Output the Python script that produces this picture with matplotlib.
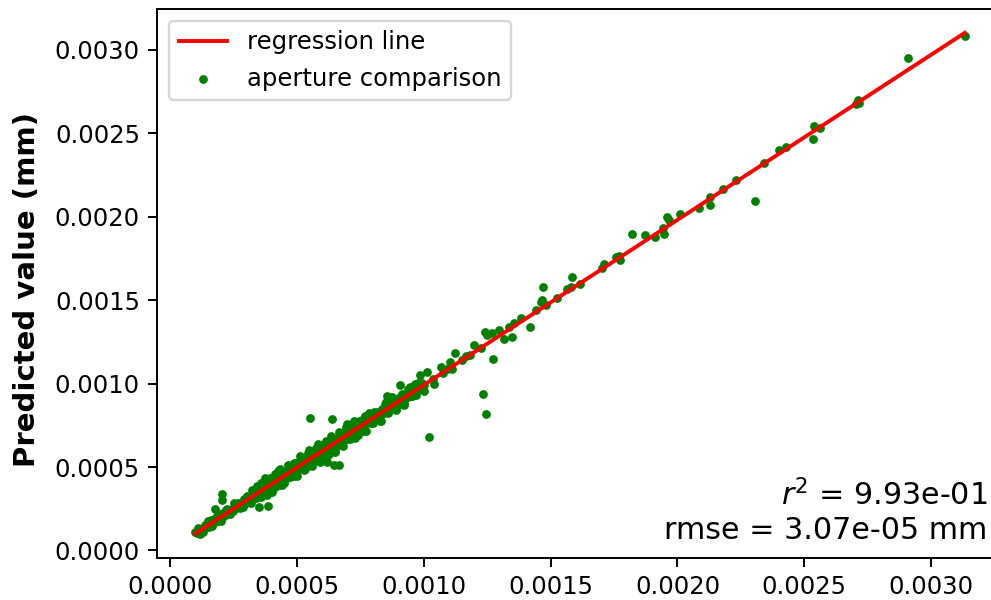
import matplotlib
matplotlib.use("Agg")
import matplotlib.pyplot as plt
import numpy as np

# values in units of 1e-5 mm
SCALE = 1e-5

dense_x = [
    10.0, 10.6, 11.2, 11.8, 12.4, 13.0, 13.6, 14.2, 14.8, 15.4, 16.0, 16.6, 17.2, 17.8, 18.4, 19.0,
    19.6, 20.2, 20.8, 21.4, 22.0, 22.6, 23.2, 23.8, 24.4, 25.0, 25.6, 26.2, 26.8, 27.4, 28.0, 28.6,
    29.2, 29.8, 12.0, 15.0, 18.0, 21.0, 24.0, 27.0, 30.0, 16.3, 19.3, 22.3, 25.2, 20.4, 20.4, 17.8,
    30.4, 30.9, 31.4, 31.9, 32.4, 32.9, 33.4, 33.9, 34.4, 34.9, 35.4, 35.9, 36.4, 36.9, 37.4, 37.9,
    38.4, 38.9, 39.4, 39.9, 40.4, 40.9, 41.4, 41.9, 42.4, 42.9, 43.4, 43.9, 44.4, 44.9, 45.4, 45.9,
    46.4, 46.9, 47.4, 47.9, 48.4, 48.9, 49.4, 49.9, 31.0, 33.0, 35.0, 37.0, 39.0, 41.0, 43.0, 45.0,
    47.0, 49.0, 36.2, 37.5, 43.4, 40.0, 45.0, 34.9, 38.8,
    50.4, 50.9, 51.4, 51.9, 52.4, 52.9, 53.4, 53.9, 54.4, 54.9, 55.4, 55.9, 56.4, 56.9, 57.4, 57.9,
    58.4, 58.9, 59.4, 59.9, 60.4, 60.9, 61.4, 61.9, 62.4, 62.9, 63.4, 63.9, 64.4, 64.9, 65.4, 65.9,
    66.4, 66.9, 67.4, 67.9, 68.4, 68.9, 69.4, 69.9, 70.4, 70.9, 71.4, 71.9, 72.4, 72.9, 73.4, 73.9,
    74.4, 74.9, 51.0, 53.0, 55.0, 57.0, 59.0, 61.0, 63.0, 65.0, 67.0, 69.0, 71.0, 73.0, 75.0,
    55.3, 63.8, 69.7, 61.8, 64.5, 66.4,
    75.5, 76.2, 77.0, 77.8, 78.6, 79.4, 80.2, 81.0, 81.8, 82.6, 83.4, 84.2, 85.0, 85.8, 86.6, 87.4,
    88.2, 89.0, 89.8, 90.6, 91.4, 92.2, 93.0, 93.8, 94.6, 95.4, 96.2, 97.0, 97.8, 98.6, 99.4, 100.2,
    76.0, 78.0, 80.0, 82.0, 84.0, 86.0, 88.0, 90.0, 92.0, 94.0, 96.0, 98.0, 100.0, 85.5, 90.8,
]
dense_y = [
    11.3, 10.2, 13.3, 10.1, 13.0, 10.8, 15.4, 13.9, 17.5, 14.3, 17.0, 14.7, 18.8, 17.1, 20.6, 17.4,
    19.9, 17.8, 22.7, 20.4, 24.5, 22.1, 24.3, 21.6, 25.1, 23.6, 27.9, 25.4, 28.2, 25.4, 28.5, 25.9,
    31.1, 28.4, 12.1, 15.2, 18.0, 21.3, 24.0, 26.9, 30.0, 18.4, 21.8, 25.0, 28.3, 33.6, 30.0, 25.0,
    32.6, 29.3, 32.1, 28.6, 36.2, 32.2, 35.0, 31.2, 38.7, 33.7, 35.6, 31.9, 39.1, 36.5, 38.4, 34.8,
    41.7, 36.8, 39.8, 35.6, 42.4, 39.8, 45.8, 39.6, 43.6, 39.4, 46.2, 43.3, 46.8, 41.0, 46.0, 44.0,
    50.9, 44.2, 49.0, 46.9, 51.4, 44.6, 49.5, 47.4, 31.0, 32.9, 35.2, 36.6, 38.9, 40.8, 42.5, 44.9,
    46.7, 48.6, 40.4, 43.6, 49.0, 35.3, 40.5, 26.0, 26.4,
    53.2, 48.6, 56.3, 50.8, 53.7, 48.2, 55.8, 52.2, 58.1, 51.0, 55.5, 50.5, 59.8, 56.2, 59.0, 54.4,
    63.5, 56.8, 60.0, 54.9, 62.9, 59.9, 65.5, 58.7, 63.3, 58.6, 66.4, 62.4, 66.3, 59.2, 65.6, 63.1,
    70.7, 64.9, 68.7, 63.4, 71.1, 68.0, 73.9, 66.8, 70.8, 67.0, 75.1, 69.5, 74.3, 67.5, 73.9, 72.4,
    77.5, 71.3, 50.5, 52.8, 54.5, 56.9, 58.4, 60.8, 62.4, 64.6, 66.5, 68.4, 70.5, 72.3, 74.5,
    79.6, 79.0, 75.5, 53.0, 51.0, 51.0,
    77.5, 71.8, 80.7, 76.3, 79.5, 76.1, 83.2, 79.9, 82.0, 77.7, 84.9, 82.1, 89.0, 82.2, 87.0, 86.4,
    90.9, 84.7, 89.7, 88.0, 93.5, 87.0, 94.0, 92.2, 97.8, 92.4, 96.2, 93.1, 100.1, 96.6, 100.6, 95.4,
    75.5, 77.4, 79.2, 81.0, 83.3, 85.2, 87.1, 89.3, 91.0, 93.2, 95.0, 97.2, 99.0, 92.4, 99.0,
]

extra_x = [
    35.7, 38.1, 39.6, 41.2, 42.7, 44.1, 45.7, 47.1, 48.7, 50.1, 51.6, 53.1, 54.6, 56.1, 57.6, 59.1,
    60.6, 62.1, 63.6, 65.1, 66.6, 68.1, 69.6, 71.1, 72.6, 74.1, 75.6, 77.1, 78.6, 80.1, 81.6, 83.1,
    84.6, 86.1, 87.6, 89.1, 90.6, 92.1, 93.6, 95.1, 44.8, 52.0, 58.0, 64.0, 70.0, 76.8, 83.8, 60.0,
    67.8, 56.8,
]
extra_y = [
    40.4, 33.4, 43.3, 38.0, 47.6, 39.0, 47.8, 44.0, 52.6, 44.4, 54.2, 48.6, 60.0, 52.4, 61.6, 53.1,
    63.8, 57.0, 68.4, 60.7, 68.7, 62.3, 73.1, 67.7, 77.5, 69.2, 78.0, 71.5, 82.6, 76.1, 83.2, 77.6,
    87.6, 82.9, 91.8, 84.3, 91.9, 88.1, 96.6, 92.3, 46.1, 51.9, 56.6, 64.3, 69.0, 77.2, 82.4, 61.4,
    69.3, 54.5,
]

sparse_x = [
    98.7, 101.3, 96.7, 94.7, 104.0, 106.6, 110.5, 111.2, 112.5, 102.0, 103.5, 107.5, 109.0, 115.0,
    116.5, 118.4, 119.7, 122.4, 124.3, 125.0, 127.0, 129.6, 131.6, 133.6, 134.9, 135.5, 138.2, 141.8,
    144.1, 146.1, 148.0, 127.2, 123.3, 124.7, 146.7, 147.1, 152.6, 156.3, 157.9, 158.6, 161.6, 170.4,
    171.0, 175.7, 177.4, 177.0, 182.2, 187.1, 191.2, 194.5, 194.3, 195.8, 196.7, 200.9, 208.6, 212.8,
    212.9, 217.8, 223.0, 230.7, 234.2, 240.1, 242.8, 253.5, 253.7, 256.3, 270.4, 271.1, 271.6, 290.8,
    313.2,
]
sparse_y = [
    105.0, 107.0, 100.0, 97.0, 100.0, 110.0, 113.0, 108.4, 118.0, 68.0, 103.0, 106.0, 108.5, 114.0,
    116.5, 117.0, 123.0, 121.0, 131.0, 129.0, 130.0, 132.0, 126.4, 134.0, 128.0, 136.0, 139.0, 134.0,
    144.0, 149.0, 147.0, 114.6, 93.6, 82.0, 150.0, 158.0, 151.0, 156.8, 157.6, 164.0, 159.6, 169.0,
    171.4, 175.6, 174.0, 176.4, 189.6, 189.0, 187.6, 189.6, 193.0, 200.0, 198.0, 201.6, 205.4, 207.0,
    212.0, 216.4, 222.0, 209.4, 232.0, 240.0, 241.6, 246.6, 254.0, 253.0, 267.6, 270.0, 268.2, 295.0,
    308.0,
]

line_x = [9.9, 313.2]
line_y = [10.0, 310.0]

tick_values = [0.0, 0.0005, 0.0010, 0.0015, 0.0020, 0.0025, 0.0030]
tick_labels = ["0.0000", "0.0005", "0.0010", "0.0015", "0.0020", "0.0025", "0.0030"]

r2_text = "$r^2$ = 9.93e-01"
rmse_text = "rmse = 3.07e-05 mm"
ylabel = "Predicted value (mm)"

assert len(dense_x) == len(dense_y), (len(dense_x), len(dense_y))
assert len(extra_x) == len(extra_y), (len(extra_x), len(extra_y))
assert len(sparse_x) == len(sparse_y), (len(sparse_x), len(sparse_y))

xs = np.array(dense_x + extra_x + sparse_x) * SCALE
ys = np.array(dense_y + extra_y + sparse_y) * SCALE

DPI = 175
fig = plt.figure(figsize=(991 / DPI, 600 / DPI), dpi=DPI)
ax = fig.add_axes([157 / 991, 42.5 / 600, 843 / 991, 549 / 600])

ax.plot(np.array(line_x) * SCALE, np.array(line_y) * SCALE, color="red", lw=1.6,
        label="regression line", zorder=3)
ax.scatter(xs, ys, s=13, color="green", linewidths=0, label="aperture comparison", zorder=2)

ax.set_xlim(-0.0000513, 0.003271)
ax.set_ylim(-0.000042, 0.003246)
ax.set_xticks(tick_values)
ax.set_yticks(tick_values)
ax.set_xticklabels(tick_labels)
ax.set_yticklabels(tick_labels)

ax.set_ylabel(ylabel, fontsize=12, fontweight="bold")
ax.yaxis.set_label_coords(-0.138, 0.488)
ax.legend(loc="upper left")
ax.text(0.985, 0.022, r2_text + "\n" + rmse_text, transform=ax.transAxes,
        ha="right", va="bottom", multialignment="right", fontsize=12.4)

fig.savefig("out.png", dpi=DPI)
